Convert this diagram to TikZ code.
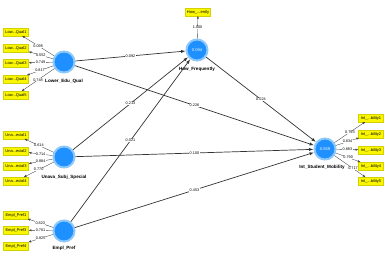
\documentclass[tikz,border=0pt]{standalone}
\usepackage{xcolor}
\usepackage{fontspec}
\setmainfont{Liberation Sans}
\usepackage{tikz}
\usetikzlibrary{arrows.meta,positioning}

\definecolor{lvblue}{RGB}{30,144,255}
\definecolor{lvhalo}{RGB}{140,200,250}
\definecolor{indyellow}{RGB}{250,246,0}

\begin{document}
\begin{tikzpicture}[x=1pt, y=-1pt,
    latent/.style={circle, fill=lvblue, draw=lvhalo, line width=2pt, minimum size=21pt, inner sep=0pt, text=white, font=\fontsize{4}{4}\selectfont},
    ind/.style={rectangle, fill=indyellow, draw=indyellow!85!black, line width=0.2pt, minimum width=25pt, minimum height=7.5pt, inner sep=0.5pt, font=\fontsize{4}{4}\selectfont},
    lvname/.style={inner sep=0pt, font=\fontsize{4.6}{5}\selectfont\bfseries},
    structural/.style={-{Latex[length=4.5pt,width=3.2pt]}, draw=black!80, line width=0.7pt},
    loading/.style={-{Latex[length=2.8pt,width=2.2pt]}, draw=black!75, line width=0.35pt},
    coef/.style={fill=white, inner sep=0.3pt, font=\fontsize{3.8}{4}\selectfont}
]
\useasboundingbox (0,0) rectangle (392,255);

% Latent variables
\node[latent] (lq) at (64,62) {};
\node[latent] (hf) at (197,50) {0.094};
\node[latent] (ism) at (325,149) {0.559};
\node[latent] (us) at (64,157) {};
\node[latent] (ep) at (64,231) {};

\node[lvname, below=5pt of lq] {Lower\_Edu\_Qual};
\node[lvname, below=5pt of hf] {How\_Frequently};
\node[lvname, below=4pt of ism, xshift=-3pt] {Int\_Student\_Mobility};
\node[lvname, below=6pt of us] {Unava\_Subj\_Special};
\node[lvname, below=3pt of ep] {Empl\_Pref};

% Indicators
\node[ind] (lq1) at (16,32) {Low...Qual1};
\node[ind] (lq2) at (16,48) {Low...Qual2};
\node[ind] (lq3) at (16,63) {Low...Qual3};
\node[ind] (lq4) at (16,79) {Low...Qual4};
\node[ind] (lq5) at (16,95) {Low...Qual5};

\node[ind] (us1) at (16,135) {Una...ecial1};
\node[ind] (us2) at (16,151) {Una...ecial2};
\node[ind] (us3) at (16,166) {Una...ecial3};
\node[ind] (us4) at (16,181) {Una...ecial4};

\node[ind] (ep1) at (16,215) {Empl\_Pref1};
\node[ind] (ep3) at (16,230) {Empl\_Pref3};
\node[ind] (ep4) at (16,246) {Empl\_Pref4};

\node[ind] (hf1) at (198,12) {How\_...ently};

\node[ind] (ism1) at (371,118) {Int\_...bility1};
\node[ind] (ism2) at (371,134) {Int\_...bility2};
\node[ind] (ism3) at (371,150) {Int\_...bility3};
\node[ind] (ism4) at (371,166) {Int\_...bility4};
\node[ind] (ism5) at (371,181) {Int\_...bility5};

% Outer loadings
\draw[loading] (lq) -- node[coef] {0.095} (lq1);
\draw[loading] (lq) -- node[coef] {0.552} (lq2);
\draw[loading] (lq) -- node[coef] {0.749} (lq3);
\draw[loading] (lq) -- node[coef] {0.817} (lq4);
\draw[loading] (lq) -- node[coef] {0.748} (lq5);

\draw[loading] (us) -- node[coef] {0.614} (us1);
\draw[loading] (us) -- node[coef] {0.714} (us2);
\draw[loading] (us) -- node[coef] {0.884} (us3);
\draw[loading] (us) -- node[coef] {0.770} (us4);

\draw[loading] (ep) -- node[coef] {0.823} (ep1);
\draw[loading] (ep) -- node[coef] {0.761} (ep3);
\draw[loading] (ep) -- node[coef] {0.825} (ep4);

\draw[loading] (hf) -- node[coef] {1.000} (hf1);

\draw[loading] (ism) -- node[coef] {0.793} (ism1);
\draw[loading] (ism) -- node[coef] {0.834} (ism2);
\draw[loading] (ism) -- node[coef] {0.883} (ism3);
\draw[loading] (ism) -- node[coef] {0.790} (ism4);
\draw[loading] (ism) -- node[coef, pos=0.6] {0.717} (ism5);

% Path coefficients
\draw[structural] (lq) -- node[coef] {0.092} (hf);
\draw[structural] (lq) -- node[coef] {0.226} (ism);
\draw[structural] (us) -- node[coef] {0.213} (hf);
\draw[structural] (us) -- node[coef] {0.100} (ism);
\draw[structural] (ep) -- node[coef] {0.021} (hf);
\draw[structural] (ep) -- node[coef] {0.453} (ism);
\draw[structural] (hf) -- node[coef] {0.024} (ism);

\end{tikzpicture}
\end{document}
